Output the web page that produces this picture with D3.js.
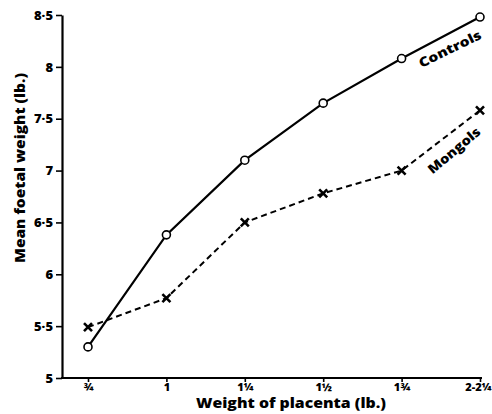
<!DOCTYPE html>
<html><head><meta charset="utf-8">
<script src="https://cdn.jsdelivr.net/npm/d3@7"></script>
<style>
html,body{margin:0;padding:0;background:#fff;}
svg{display:block;font-family:"Open Sans",Lato,sans-serif;font-weight:800;}
</style></head>
<body><svg id="c" width="492" height="414"></svg>
<script>
const categories = ["\u00BE", "1", "1\u00BC", "1\u00BD", "1\u00BE", "2-2\u00BC"];
const controls = [5.3, 6.38, 7.1, 7.65, 8.08, 8.48];
const mongols = [5.49, 5.77, 6.5, 6.78, 7.0, 7.58];
const yTicks = [5, 5.5, 6, 6.5, 7, 7.5, 8, 8.5];
const seriesNames = ["Controls", "Mongols"];
const xTitle = "Weight of placenta (lb.)";
const yTitle = "Mean foetal weight (lb.)";

const svg = d3.select("#c");
const x = d3.scalePoint().domain(categories).range([88, 480]);
const y = d3.scaleLinear().domain([5, 8.5]).range([378, 15]);
const fmt = v => d3.format("")(v).replace(".", "\u00B7");

// Y axis
const ya = svg.append("g").attr("transform", "translate(62,0)")
  .call(d3.axisLeft(y).tickValues(yTicks).tickFormat(fmt).tickSize(6).tickSizeOuter(0).tickPadding(3));
ya.select(".domain").attr("stroke-width", 2.2);
ya.selectAll(".tick line").attr("stroke-width", 1.6);
ya.selectAll(".tick text").attr("font-size", 13).attr("font-weight", 800)
  .attr("font-family", "'Open Sans',sans-serif").attr("fill", "#000");

// X axis
const xa = svg.append("g").attr("transform", "translate(0,378)")
  .call(d3.axisBottom(x).tickSize(4).tickSizeOuter(0).tickPadding(1));
xa.select(".domain").remove();
xa.selectAll(".tick line").attr("stroke-width", 1.6);
xa.selectAll(".tick text").attr("font-size", 11).attr("font-weight", 800)
  .attr("font-family", "'Open Sans',sans-serif").attr("fill", "#000");
xa.selectAll(".tick text").filter((d, i, n) => i === n.length - 1)
  .attr("text-anchor", "end").attr("dx", 11);
svg.append("line").attr("x1", 61).attr("x2", 482).attr("y1", 378).attr("y2", 378)
  .attr("stroke", "#000").attr("stroke-width", 2.2);

// Titles
svg.append("text").attr("x", 291).attr("y", 408).attr("text-anchor", "middle")
  .attr("font-size", 13.5).attr("textLength", 190).attr("lengthAdjust", "spacingAndGlyphs").text(xTitle);
svg.append("text").attr("transform", "translate(25,168) rotate(-90)").attr("text-anchor", "middle")
  .attr("font-size", 14).attr("textLength", 190).attr("lengthAdjust", "spacingAndGlyphs").text(yTitle);

const line = d3.line().x((d, i) => x(categories[i])).y(d => y(d));

// Mongols (dashed)
svg.append("path").datum(mongols).attr("d", line).attr("fill", "none")
  .attr("stroke", "#000").attr("stroke-width", 2).attr("stroke-dasharray", "6,4");
const s = 4;
svg.append("g").selectAll("path").data(mongols).join("path")
  .attr("d", (d, i) => {
    const cx = x(categories[i]), cy = y(d);
    return `M${cx - s},${cy - s}L${cx + s},${cy + s}M${cx + s},${cy - s}L${cx - s},${cy + s}`;
  })
  .attr("stroke", "#000").attr("stroke-width", 2.6).attr("fill", "none");

// Controls (solid)
svg.append("path").datum(controls).attr("d", line).attr("fill", "none")
  .attr("stroke", "#000").attr("stroke-width", 2.2);
svg.append("g").selectAll("circle").data(controls).join("circle")
  .attr("cx", (d, i) => x(categories[i])).attr("cy", d => y(d)).attr("r", 4)
  .attr("fill", "#fff").attr("stroke", "#000").attr("stroke-width", 1.6);

// Series labels
svg.append("text").attr("transform", "translate(452,53) rotate(-26)").attr("text-anchor", "middle")
  .attr("font-size", 13).attr("textLength", 68).attr("lengthAdjust", "spacingAndGlyphs").text(seriesNames[0]);
svg.append("text").attr("transform", "translate(457,154) rotate(-40)").attr("text-anchor", "middle")
  .attr("font-size", 13).attr("textLength", 64).attr("lengthAdjust", "spacingAndGlyphs").text(seriesNames[1]);
</script></body></html>
